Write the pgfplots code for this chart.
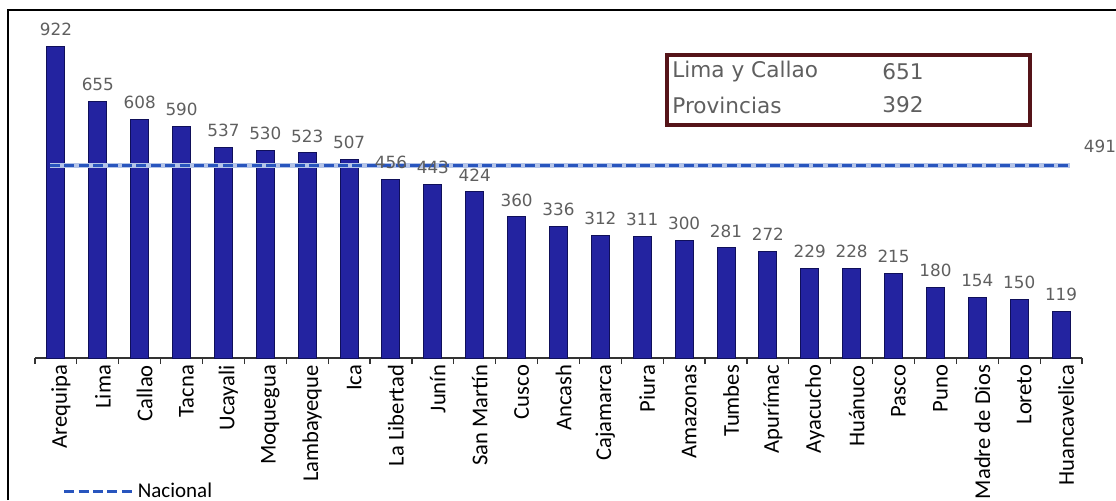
\documentclass[border=0pt]{standalone}
\usepackage{pgfplots}
\pgfplotsset{compat=1.18}
\usepackage{fontspec}
\setmainfont{DejaVu Sans}
\newfontfamily\carlito{Carlito}
\definecolor{barblue}{RGB}{35,35,160}
\definecolor{baredge}{RGB}{15,15,90}
\definecolor{natblue}{RGB}{40,85,190}
\definecolor{lblgray}{RGB}{95,95,95}
\definecolor{boxred}{RGB}{85,20,25}
\pgfplotsset{longline/.style={legend image code/.code={\draw[##1] (0pt,0pt) -- (34pt,0pt);}}}
\begin{document}
\begin{tikzpicture}
\path[use as bounding box] (0,0) rectangle (558pt,250pt);
% outer frame
\draw[line width=1pt] (4pt,0pt) -- (4pt,245pt) -- (558pt,245pt);
\begin{axis}[
    at={(17.5pt,71pt)}, anchor=south west,
    scale only axis, width=523.5pt, height=156.8pt,
    xmin=-0.5, xmax=24.5, ymin=0, ymax=800,
    axis x line*=bottom, axis y line=none,
    x axis line style={-, line width=0.6pt, black!80},
    xtick={0,...,24},
    xticklabels={Arequipa,Lima,Callao,Tacna,Ucayali,Moquegua,Lambayeque,Ica,La Libertad,Junín,San Martín,Cusco,Ancash,Cajamarca,Piura,Amazonas,Tumbes,Apurímac,Ayacucho,Huánuco,Pasco,Puno,Madre de Dios,Loreto,Huancavelica},
    minor xtick={-0.5,0.5,...,24.5},
    major tick length=0pt, minor tick length=3pt,
    tick align=outside,
    minor tick style={black!80, line width=0.6pt},
    xticklabel style={rotate=90, anchor=east, font=\carlito\fontsize{11.3}{11.3}\selectfont, yshift=-2.5pt},
    /pgf/number format/assume math mode=true,
    clip=false,
    legend style={at={(0.026,-0.425)}, anchor=west, draw=none, fill=none, font=\carlito\fontsize{10.5}{10.5}\selectfont, inner sep=0pt},
    legend cell align=left,
]
\addplot[ybar, bar width=9pt, fill=barblue, draw=baredge, line width=0.5pt,
    y filter/.expression={y>800 ? 795 : y},
    point meta=explicit,
    nodes near coords,
    every node near coord/.append style={font=\fontsize{8.4}{8.4}\selectfont, text=lblgray, anchor=south, inner sep=1pt, yshift=4pt},
    forget plot]
coordinates {
(0,922) [922] (1,655) [655] (2,608) [608] (3,590) [590] (4,537) [537]
(5,530) [530] (6,523) [523] (7,507) [507] (8,456) [456] (9,443) [443]
(10,424) [424] (11,360) [360] (12,336) [336] (13,312) [312] (14,311) [311]
(15,300) [300] (16,281) [281] (17,272) [272] (18,229) [229] (19,228) [228]
(20,215) [215] (21,180) [180] (22,154) [154] (23,150) [150] (24,119) [119]
};
\addplot[natblue!35, line width=2.2pt, forget plot] coordinates {(-0.14,491) (24.21,491)};
\addplot[natblue, line width=1.6pt, dash pattern=on 5pt off 2.2pt, longline]
coordinates {(-0.14,491) (24.21,491)};
\addlegendentry{Nacional}
\end{axis}
% nacional value
\node[text=lblgray, font=\fontsize{8.4}{8.4}\selectfont] at (550pt,177pt) {491};
% inset box
\draw[boxred, line width=1.6pt] (333.5pt,222.5pt) rectangle (515pt,187.5pt);
\node[anchor=west, text=lblgray, font=\fontsize{10.8}{10.8}\selectfont, inner sep=0pt] at (336pt,214pt) {Lima y Callao};
\node[anchor=west, text=lblgray, font=\fontsize{10.8}{10.8}\selectfont, inner sep=0pt] at (441pt,214pt) {651};
\node[anchor=west, text=lblgray, font=\fontsize{10.8}{10.8}\selectfont, inner sep=0pt] at (336pt,197.5pt) {Provincias};
\node[anchor=west, text=lblgray, font=\fontsize{10.8}{10.8}\selectfont, inner sep=0pt] at (441pt,197.5pt) {392};
\end{tikzpicture}
\end{document}
